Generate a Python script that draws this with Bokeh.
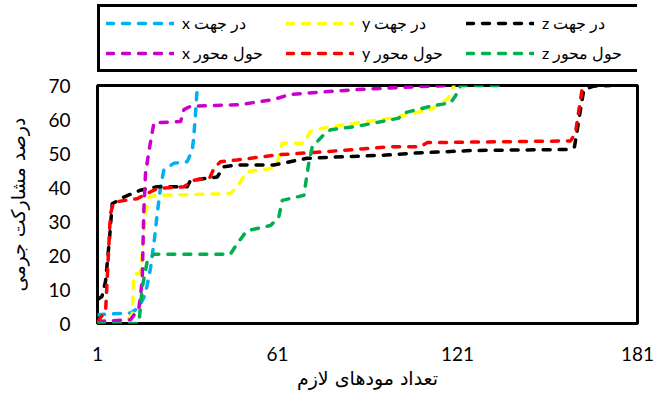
from bokeh.plotting import figure
from bokeh.layouts import column
from bokeh.models import Legend, LegendItem, Range1d, FixedTicker
from bokeh.embed import file_html
from bokeh.resources import INLINE

# ---- data ----
x_ticks = [1, 61, 121, 181]
y_ticks = [0, 10, 20, 30, 40, 50, 60, 70]

labels = ["در جهت x", "در جهت y", "در جهت z", "حول محور x", "حول محور y", "حول محور z"]
colors = ["#00B0F0", "#FFFF00", "#000000", "#CC00CC", "#FF0000", "#00B050"]

tx_x = [1, 12, 14.5, 16.4, 17.5, 18.7, 20, 20.9, 22, 23.1, 26.4, 30.9, 32.6, 33.1, 33.7, 34.2, 34.5]
tx_y = [2.6, 3.1, 4.5, 7.5, 11, 16.4, 25, 32.2, 40, 45.1, 47.1, 47.6, 51, 55, 62, 68.8, 70]

ty_x = [1, 11, 12.6, 13.1, 15.3, 17, 18.1, 20.9, 45.3, 47.5, 49.7, 50.8, 58.7, 60.9, 61.9, 62.6, 69.8,
        72, 76.4, 87.5, 98.7, 112, 117.6, 119.2, 119.8]
ty_y = [0.5, 1, 2.6, 14.4, 14.9, 32.2, 37.2, 37.7, 38.2, 40.2, 43.1, 44.6, 45.6, 47.1, 50.5, 53, 53,
        56.5, 57.5, 59, 60.4, 62.9, 65.9, 68.8, 70]

tz_x = [1, 2.5, 3.7, 5, 5.9, 9.8, 15.3, 20.9, 30.9, 32, 40.9, 43.1, 47.5, 59.8, 70.9, 98.7, 106.4,
        126.4, 158.7, 160, 163.1, 166.4, 172]
tz_y = [7, 8, 12.5, 25, 35.2, 37.2, 39.2, 40.2, 40.2, 42.1, 43.1, 46.1, 46.6, 46.6, 48.6, 49.6, 50.1,
        50.9, 51.2, 52, 68.8, 69.8, 70]

rx_x = [1, 12, 14.8, 15.9, 16.4, 17, 18.1, 19.8, 28.7, 29.8, 32, 48.7, 59.8, 65.3, 87.5, 98.7, 117.6]
rx_y = [0.6, 1.1, 4.5, 12.5, 32.2, 44.1, 50.5, 59, 59.4, 62.9, 63.9, 64.4, 65.9, 67.4, 68.8, 69.3, 70]

ry_x = [1, 3.7, 5.3, 6.4, 14.2, 16.4, 20.9, 29.8, 33.1, 38.5, 39.8, 42, 47.5, 60.9, 76.4, 98.7, 108.7,
        110.9, 158.7, 160.3, 162.6, 164.2]
ry_y = [0.6, 3.6, 32.2, 35.7, 36.7, 37.7, 39.7, 40.2, 42.1, 43, 45.6, 47.6, 48.1, 49.6, 50.5, 52, 52,
        53.2, 53.7, 56, 69.3, 70]

rz_x = [1, 14.8, 15.9, 17.6, 19.8, 45.3, 47.5, 50.8, 58.7, 61.4, 62.6, 69.8, 71.4, 72.6, 76.4, 78.7,
        87.5, 98.7, 101.4, 103.1, 112, 118.7, 120.3, 122, 136]
rz_y = [0, 0, 10.5, 18.4, 20.4, 20.4, 23.4, 27.3, 28.8, 31.2, 36.2, 37.7, 47.1, 52, 55.5, 57, 58,
        59.9, 60.4, 61.9, 63.9, 64.9, 66.9, 70, 70]

series_x = [tx_x, ty_x, tz_x, rx_x, ry_x, rz_x]
series_y = [tx_y, ty_y, tz_y, rx_y, ry_y, rz_y]

LINE_W = 3.5
DASH = "7 9"
LEGEND_H = 74

# ---- main chart ----
p = figure(width=670, height=394 - LEGEND_H, output_backend="svg", toolbar_location=None,
           x_range=Range1d(1, 181), y_range=Range1d(0, 70),
           min_border_left=97, min_border_right=33, min_border_top=85 - LEGEND_H,
           min_border_bottom=71)
p.xgrid.visible = False
p.ygrid.visible = False
p.outline_line_color = "black"
p.outline_line_width = 3
p.outline_line_alpha = 1

for ax in (p.xaxis[0], p.yaxis[0]):
    ax.axis_line_color = None
    ax.major_tick_line_color = None
    ax.minor_tick_line_color = None
    ax.major_label_text_font = "Lato"
    ax.major_label_text_font_size = "19px"
    ax.major_label_text_color = "black"
    ax.axis_label_text_font = "DejaVu Sans"
    ax.axis_label_text_font_size = "19px"
    ax.axis_label_text_font_style = "normal"
    ax.axis_label_text_color = "black"

p.xaxis.ticker = FixedTicker(ticks=x_ticks)
p.yaxis.ticker = FixedTicker(ticks=y_ticks)
p.xaxis.major_label_standoff = 17
p.yaxis.major_label_standoff = 21
p.xaxis.axis_label = "تعداد مودهای لازم"
p.yaxis.axis_label = "درصد مشارکت جرمی"
p.xaxis.axis_label_standoff = 3
p.yaxis.axis_label_standoff = 16

for xs, ys, c in zip(series_x, series_y, colors):
    p.line(xs, ys, line_color=c, line_width=LINE_W, line_dash=DASH, line_cap="round",
           line_join="round")

# ---- legend strip (separate canvas above the chart; its frame is aligned with the chart's) ----
lg = figure(width=670, height=LEGEND_H, output_backend="svg", toolbar_location=None,
            x_range=Range1d(0, 1), y_range=Range1d(0, 1), min_border=0)
lg.axis.visible = False
lg.grid.visible = False
lg.outline_line_color = None

nan = float("nan")
items = []
for c, lab in zip(colors, labels):
    r = lg.line([nan], [nan], line_color=c, line_width=LINE_W, line_dash=DASH, line_cap="round")
    items.append(LegendItem(label="\u202b" + lab + "\u202c", renderers=[r]))

legend = Legend(items=items, location=(0, 2), orientation="horizontal", ncols=3,
                border_line_color="black", border_line_width=3, border_line_alpha=1,
                background_fill_color="white", background_fill_alpha=1,
                label_text_font="Lato", label_text_font_size="16px", label_text_color="black",
                glyph_width=68, glyph_height=20, label_height=20, label_width=94,
                label_standoff=8, spacing=10, padding=6, margin=0)
lg.add_layout(legend)

layout = column(lg, p, spacing=0)
open("out.html", "w").write(file_html(layout, INLINE))
